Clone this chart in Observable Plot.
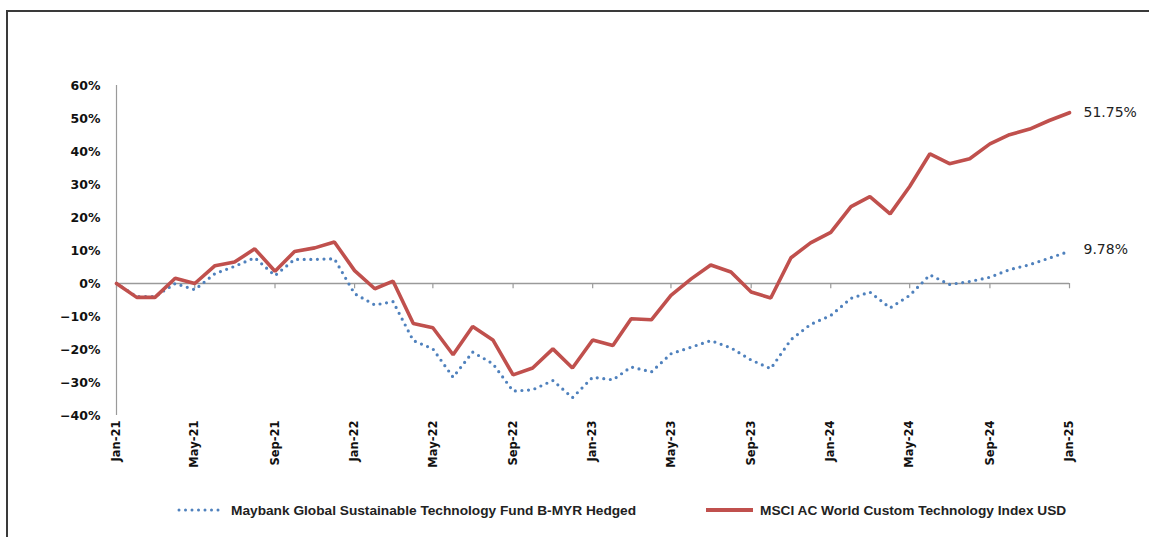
<!DOCTYPE html>
<html>
<head>
<meta charset="utf-8">
<script src="https://cdn.jsdelivr.net/npm/d3@7"></script>
<script src="https://cdn.jsdelivr.net/npm/@observablehq/plot@0.6"></script>
<style>
  html, body { margin: 0; padding: 0; background: #fff; }
  #wrap { position: relative; width: 1149px; height: 537px; overflow: hidden; }
  #frame { position: absolute; left: 6px; top: 10px; width: 1200px; height: 600px;
           border-left: 2px solid #3a3a3a; border-top: 2px solid #3a3a3a; box-sizing: border-box; }
  #chart { position: absolute; left: 0; top: 0; }
  .leg { position: absolute; top: 501px; height: 18px; display: flex; align-items: center;
         font-family: "Liberation Sans", Arial, sans-serif; font-weight: bold; font-size: 13.7px; color: #222; }
  .leg svg { margin-right: 5px; }
</style>
</head>
<body>
<div id="wrap">
  <div id="frame"></div>
  <div id="chart"></div>
  <div class="leg" style="left:176px">
    <svg width="50" height="10"><line x1="3" y1="5" x2="48" y2="5" stroke="#4F81BD" stroke-width="3" stroke-linecap="round" stroke-dasharray="0 6.5"/></svg>
    <span>Maybank Global Sustainable Technology Fund B-MYR Hedged</span>
  </div>
  <div class="leg" style="left:706px">
    <svg width="49" height="10"><line x1="0" y1="5" x2="47" y2="5" stroke="#C0504D" stroke-width="4"/></svg>
    <span>MSCI AC World Custom Technology Index USD</span>
  </div>
</div>
<script>
// Months (Jan-21 .. Jan-25)
const months = [
  "2021-01","2021-02","2021-03","2021-04","2021-05","2021-06","2021-07","2021-08","2021-09","2021-10","2021-11","2021-12",
  "2022-01","2022-02","2022-03","2022-04","2022-05","2022-06","2022-07","2022-08","2022-09","2022-10","2022-11","2022-12",
  "2023-01","2023-02","2023-03","2023-04","2023-05","2023-06","2023-07","2023-08","2023-09","2023-10","2023-11","2023-12",
  "2024-01","2024-02","2024-03","2024-04","2024-05","2024-06","2024-07","2024-08","2024-09","2024-10","2024-11","2024-12",
  "2025-01"
];
// Cumulative return, % — Maybank Global Sustainable Technology Fund B-MYR Hedged
const fundValues = [
  0, -4.0, -4.0, 0.0, -1.9, 3.0, 5.2, 7.8, 2.4, 7.3, 7.3, 7.5,
  -3.1, -6.5, -5.5, -17.3, -19.8, -28.4, -20.8, -24.3, -32.6, -32.2, -29.4, -34.6,
  -28.4, -29.2, -25.3, -26.8, -21.3, -19.3, -17.3, -19.5, -23.2, -25.8, -17.0, -12.4,
  -9.7, -4.5, -2.6, -7.4, -3.6, 2.6, -0.3, 0.6, 1.9, 4.2, 5.7, 7.7,
  9.78
];
// Cumulative return, % — MSCI AC World Custom Technology Index USD
const indexValues = [
  0, -4.2, -4.2, 1.6, 0.0, 5.4, 6.5, 10.5, 3.7, 9.7, 10.8, 12.6,
  3.9, -1.6, 0.7, -12.1, -13.4, -21.6, -13.0, -17.1, -27.7, -25.6, -19.8, -25.6,
  -17.1, -18.8, -10.7, -11.0, -3.6, 1.4, 5.6, 3.5, -2.6, -4.4, 7.8, 12.3,
  15.5, 23.3, 26.3, 21.1, 29.4, 39.3, 36.3, 37.8, 42.3, 45.1, 46.8, 49.4,
  51.75
];
const seriesNames = ["Maybank Global Sustainable Technology Fund B-MYR Hedged", "MSCI AC World Custom Technology Index USD"];
const yTicks = [-0.4, -0.3, -0.2, -0.1, 0, 0.1, 0.2, 0.3, 0.4, 0.5, 0.6];
const xTickMonths = ["2021-01","2021-05","2021-09","2022-01","2022-05","2022-09","2023-01","2023-05","2023-09","2024-01","2024-05","2024-09","2025-01"];

const parse = d3.utcParse("%Y-%m");
const fund = months.map((m, i) => ({date: parse(m), value: fundValues[i] / 100}));
const index = months.map((m, i) => ({date: parse(m), value: indexValues[i] / 100}));
const xTicks = xTickMonths.map(parse);
const lastFund = fund[fund.length - 1];
const lastIndex = index[index.length - 1];
const xDomain = [parse(months[0]), parse(months[months.length - 1])];

const chart = Plot.plot({
  width: 1149,
  height: 480,
  marginLeft: 116,
  marginRight: 80,
  marginTop: 85,
  marginBottom: 65,
  style: {fontFamily: "'DejaVu Sans', Verdana, sans-serif", fontSize: "12px", color: "#111", background: "transparent"},
  x: {type: "utc", domain: xDomain},
  y: {domain: [-0.4, 0.6]},
  marks: [
    Plot.ruleX([xDomain[0]], {y1: -0.4, y2: 0.6, stroke: "#9a9a9a", strokeWidth: 1.2}),
    Plot.ruleY([0], {stroke: "#9a9a9a", strokeWidth: 1.5}),
    Plot.ruleX(xTicks, {x: d => d, y1: 0, y2: -0.016, stroke: "#9a9a9a", strokeWidth: 1.2}),
    Plot.axisY({ticks: yTicks, tickFormat: d3.format(".0%"), tickSize: 0, tickPadding: 16, fontWeight: "bold", fontSize: 12.5, label: null}),
    Plot.axisX({ticks: xTicks, tickFormat: d3.utcFormat("%b-%y"), tickSize: 0, tickPadding: 5, tickRotate: -90, fontWeight: "bold", fontSize: 11.5, label: null}),
    Plot.line(fund, {x: "date", y: "value", stroke: "#4F81BD", strokeWidth: 3.2, strokeLinecap: "round", strokeDasharray: "0 6.6"}),
    Plot.line(index, {x: "date", y: "value", stroke: "#C0504D", strokeWidth: 3.6, strokeLinejoin: "miter"}),
    Plot.text([lastIndex], {x: "date", y: "value", text: d => d3.format(".2f")(d.value * 100) + "%", textAnchor: "start", dx: 14, fontSize: 14, fill: "#222"}),
    Plot.text([lastFund], {x: "date", y: "value", text: d => d3.format(".2f")(d.value * 100) + "%", textAnchor: "start", dx: 14, dy: -2, fontSize: 14, fill: "#222"})
  ]
});
document.getElementById("chart").appendChild(chart);
</script>
</body>
</html>
